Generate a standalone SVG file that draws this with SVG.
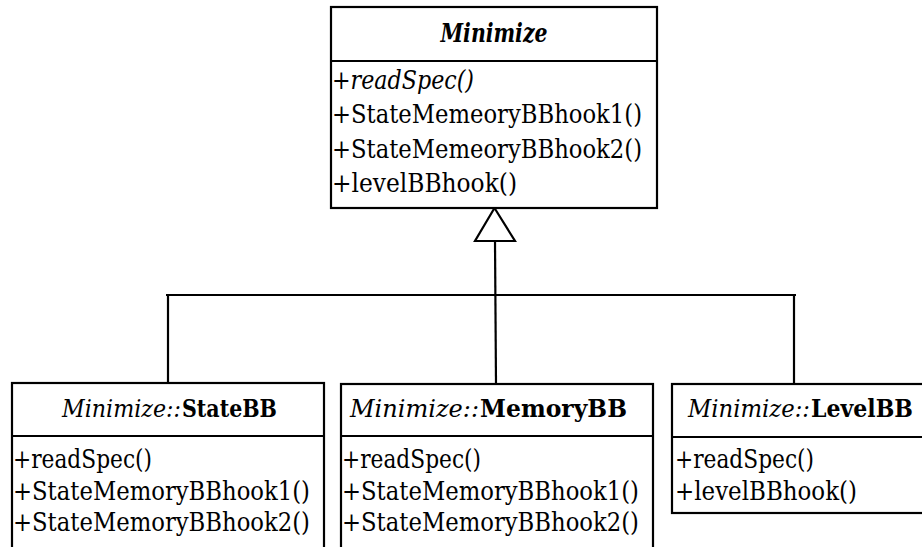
<svg xmlns="http://www.w3.org/2000/svg" width="922" height="547" viewBox="0 0 922 547">
  <style>
    .box { fill: #ffffff; stroke: #000000; stroke-width: 2.2; }
    .sep { stroke: #000000; stroke-width: 2.2; }
    .wire { fill: none; stroke: #000000; stroke-width: 2.2; }
    .title { font-size: 26px; text-anchor: middle; }
    .head { font-size: 24.5px; }
    .member { font-size: 26px; }
    .it { font-style: italic; }
    .bd { font-weight: bold; }
  </style>
  <rect width="922" height="547" fill="#ffffff"/>

  <!-- inheritance connectors -->
  <g id="connectors">
    <polyline class="wire" points="166,295 796,295"/>
    <line class="wire" x1="168" y1="295" x2="168" y2="383"/>
    <line class="wire" x1="495" y1="241" x2="496" y2="384"/>
    <line class="wire" x1="794" y1="295" x2="794" y2="383"/>
    <polygon class="box" points="494.5,208 475,241 515,241"/>
  </g>

  <g font-family="DejaVu Serif, serif" fill="#000000">
    <!-- abstract base class -->
    <g id="Minimize">
      <rect class="box" x="331" y="7" width="326" height="201"/>
      <line class="sep" x1="331" y1="61" x2="657" y2="61"/>
      <text class="title it bd" x="494" y="42" textLength="107" lengthAdjust="spacingAndGlyphs">Minimize</text>
      <text class="member it" x="332" y="89" textLength="142" lengthAdjust="spacingAndGlyphs">+readSpec()</text>
      <text class="member" x="332" y="123" textLength="310" lengthAdjust="spacingAndGlyphs">+StateMemeoryBBhook1()</text>
      <text class="member" x="332" y="158" textLength="310" lengthAdjust="spacingAndGlyphs">+StateMemeoryBBhook2()</text>
      <text class="member" x="332" y="192" textLength="185" lengthAdjust="spacingAndGlyphs">+levelBBhook()</text>
    </g>

    <g id="StateBB">
      <rect class="box" x="12" y="383" width="312" height="180"/>
      <line class="sep" x1="12" y1="436" x2="324" y2="436"/>
      <text class="head it" x="62" y="417" textLength="119" lengthAdjust="spacingAndGlyphs">Minimize::</text>
      <text class="head bd" x="182" y="417" textLength="95" lengthAdjust="spacingAndGlyphs">StateBB</text>
      <text class="member" x="13" y="468" textLength="139" lengthAdjust="spacingAndGlyphs">+readSpec()</text>
      <text class="member" x="13" y="500" textLength="297" lengthAdjust="spacingAndGlyphs">+StateMemoryBBhook1()</text>
      <text class="member" x="13" y="531" textLength="297" lengthAdjust="spacingAndGlyphs">+StateMemoryBBhook2()</text>
    </g>

    <g id="MemoryBB">
      <rect class="box" x="341" y="384" width="312" height="180"/>
      <line class="sep" x1="341" y1="436" x2="653" y2="436"/>
      <text class="head it" x="350" y="417" textLength="129" lengthAdjust="spacingAndGlyphs">Minimize::</text>
      <text class="head bd" x="480" y="417" textLength="147" lengthAdjust="spacingAndGlyphs">MemoryBB</text>
      <text class="member" x="342" y="468" textLength="139" lengthAdjust="spacingAndGlyphs">+readSpec()</text>
      <text class="member" x="342" y="500" textLength="297" lengthAdjust="spacingAndGlyphs">+StateMemoryBBhook1()</text>
      <text class="member" x="342" y="531" textLength="297" lengthAdjust="spacingAndGlyphs">+StateMemoryBBhook2()</text>
    </g>

    <g id="LevelBB">
      <rect class="box" x="672" y="384" width="256" height="129"/>
      <line class="sep" x1="672" y1="437" x2="928" y2="437"/>
      <text class="head it" x="688" y="417" textLength="122" lengthAdjust="spacingAndGlyphs">Minimize::</text>
      <text class="head bd" x="811" y="417" textLength="102" lengthAdjust="spacingAndGlyphs">LevelBB</text>
      <text class="member" x="675" y="468" textLength="139" lengthAdjust="spacingAndGlyphs">+readSpec()</text>
      <text class="member" x="675" y="500" textLength="182" lengthAdjust="spacingAndGlyphs">+levelBBhook()</text>
    </g>
  </g>
</svg>
